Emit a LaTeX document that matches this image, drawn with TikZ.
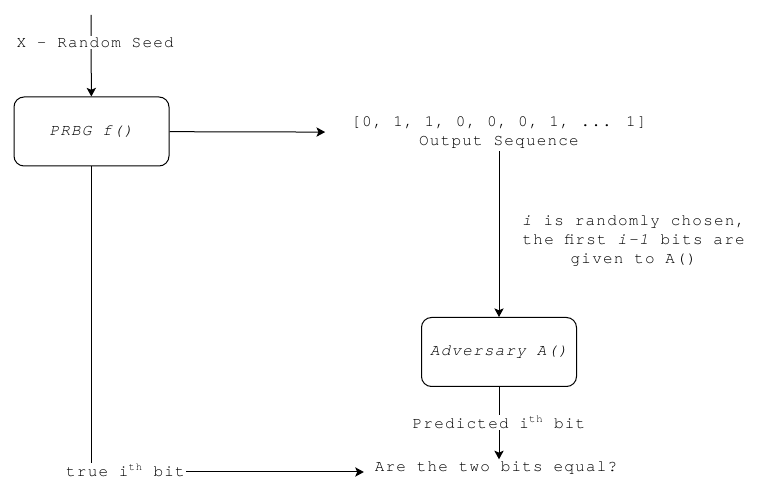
\documentclass[tikz,border=0pt]{standalone}
\usepackage{fontspec}
\usetikzlibrary{arrows.meta, positioning}
\newfontfamily\diagfont{TeX Gyre Cursor}[LetterSpace=7.5]

\begin{document}
\begin{tikzpicture}[
    x=0.75pt, y=-0.75pt,
    >={Stealth[length=6.5pt, width=7pt, inset=1.5pt]},
    txt/.style={font=\diagfont\fontsize{12}{14.25}\selectfont, text=black, inner sep=2pt},
    func/.style={txt, draw, line width=0.75pt, rounded corners=7.5pt,
        minimum width=116.25pt, minimum height=51.75pt, font=\diagfont\itshape\fontsize{12}{14.25}\selectfont},
    lbl/.style={txt, fill=white, inner sep=1pt},
    flow/.style={->, line width=0.75pt}
]
\useasboundingbox (0,0) rectangle (758,477);

% Generator and its seed
\coordinate (seedtop) at (91,15);
\node[func] (prbg) at (91.5,131.5) {PRBG f()};
\draw[flow] (seedtop) -- node[lbl, pos=0.34, xshift=3pt] {X - Random Seed} (prbg);

% Output of the generator
\node[txt, align=center, inner xsep=19.5pt] (seq) at (499,132.5)
    {[0, 1, 1, 0, 0, 0, 1, ... 1]\\Output Sequence};
\draw[flow] (prbg) -- (seq);

% Adversary
\node[func] (adv) at (499,352) {Adversary A()};
\draw[flow] (seq) -- node[txt, align=center, pos=0.52, xshift=101pt, yshift=-3pt]
    {\textit{i} is randomly chosen,\\the first \textit{i-1} bits are\\given to A()} (adv);

% Comparison
\node[txt, anchor=base, inner xsep=8pt] (equal) at (496,472) {Are the two bits equal?};
\draw[flow] (adv) -- node[lbl, pos=0.49] {Predicted i\textsuperscript{th} bit} (adv |- equal.north);
\draw[flow] (prbg) |- node[lbl, pos=0.5, xshift=25.5pt, yshift=1pt] {true i\textsuperscript{th} bit} (equal.base west);
\end{tikzpicture}
\end{document}
